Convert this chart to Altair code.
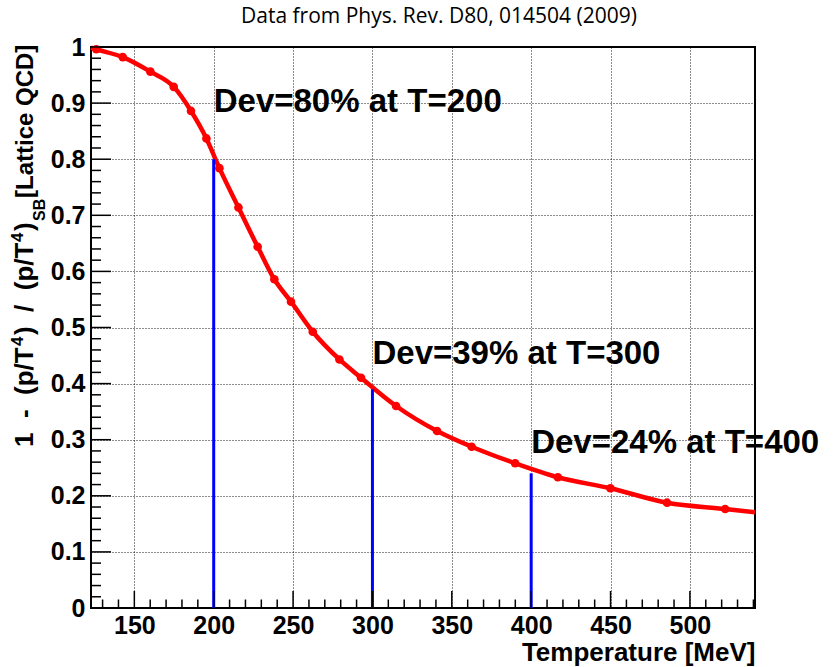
import altair as alt
import pandas as pd

# Lattice QCD pressure deviation from the Stefan-Boltzmann limit
temperature = [126.0, 142.7, 160.1, 174.8, 185.7, 195.4, 203.6, 215.6, 227.7, 238.2,
               248.7, 262.4, 279.2, 292.8, 314.9, 340.7, 362.5, 389.9, 416.8, 449.9,
               485.6, 522.2]
deviation = [0.996, 0.982, 0.956, 0.929, 0.886, 0.837, 0.784, 0.714, 0.644, 0.586,
             0.546, 0.4925, 0.443, 0.4105, 0.360, 0.3155, 0.2875, 0.258, 0.233, 0.2134,
             0.1877, 0.1765]
# curve continues to the frame edges
curve_start = (122.7, 0.999)
curve_end = (541.0, 0.1706)

# marked temperatures and their deviations
mark_T = [200, 300, 400]
mark_dev = [0.80, 0.39, 0.24]
label_y = [0.885, 0.435, 0.276]

x_ticks = [150, 200, 250, 300, 350, 400, 450, 500]
y_ticks = [0, 0.1, 0.2, 0.3, 0.4, 0.5, 0.6, 0.7, 0.8, 0.9, 1]

W, H = 664, 561
FONT = "Liberation Sans"
LABEL_SIZE = 25
NB = "\u00a0"  # non-collapsing space for the wider title spacing

x_scale = alt.Scale(domain=[curve_start[0], curve_end[0]], nice=False, zero=False)
y_scale = alt.Scale(domain=[0, 1], nice=False, zero=False)

curve_df = pd.DataFrame({
    "T": [curve_start[0]] + temperature + [curve_end[0]],
    "v": [curve_start[1]] + deviation + [curve_end[1]],
})
points_df = pd.DataFrame({"T": temperature, "v": deviation})
marks_df = pd.DataFrame({
    "T": mark_T,
    "dev": mark_dev,
    "ly": label_y,
    "label": [f"Dev={round(d * 100)}% at T={t}" for t, d in zip(mark_T, mark_dev)],
})

curve = alt.Chart(curve_df).mark_line(
    color="#ff0000", strokeWidth=4.5, interpolate="monotone"
).encode(
    x=alt.X("T:Q", scale=x_scale,
            axis=alt.Axis(values=x_ticks, title="Temperature [MeV]", titleAnchor="end",
                          titleAlign="right", titleFont=FONT, titleFontSize=26,
                          titleFontWeight="bold", titleColor="black", titlePadding=1,
                          labelPadding=5, labelFlush=False)),
    y=alt.Y("v:Q", scale=y_scale,
            axis=alt.Axis(values=y_ticks, format="~g", title=None, labelPadding=6)),
)

points = alt.Chart(points_df).mark_point(
    shape="circle", filled=True, color="#ff0000", size=75, opacity=1
).encode(x=alt.X("T:Q", scale=x_scale), y=alt.Y("v:Q", scale=y_scale))

drops = alt.Chart(marks_df).mark_rule(color="#0000ff", strokeWidth=3).encode(
    x=alt.X("T:Q", scale=x_scale),
    y=alt.Y("dev:Q", scale=y_scale),
    y2=alt.datum(0),
)

dev_text = alt.Chart(marks_df).mark_text(
    align="left", baseline="alphabetic", font=FONT, fontWeight="bold",
    fontSize=33, color="black", dx=0
).encode(x=alt.X("T:Q", scale=x_scale), y=alt.Y("ly:Q", scale=y_scale), text="label:N")

# inward tick marks on the bottom and left axes
xt = [130 + 10 * i for i in range(42)]
x_major = pd.DataFrame({"T": [t for t in xt if t % 50 == 0]})
x_minor = pd.DataFrame({"T": [t for t in xt if t % 50 != 0]})
yt = [i for i in range(51)]
y_major = pd.DataFrame({"v": [i / 50 for i in yt if i % 5 == 0]})
y_minor = pd.DataFrame({"v": [i / 50 for i in yt if i % 5 != 0]})

tick_style = dict(color="black", strokeWidth=1.5)
xmaj = alt.Chart(x_major).mark_rule(**tick_style).encode(
    x=alt.X("T:Q", scale=x_scale), y=alt.value(H), y2=alt.value(H - 17))
xmin = alt.Chart(x_minor).mark_rule(**tick_style).encode(
    x=alt.X("T:Q", scale=x_scale), y=alt.value(H), y2=alt.value(H - 8.5))
ymaj = alt.Chart(y_major).mark_rule(**tick_style).encode(
    y=alt.Y("v:Q", scale=y_scale), x=alt.value(0), x2=alt.value(20))
ymin = alt.Chart(y_minor).mark_rule(**tick_style).encode(
    y=alt.Y("v:Q", scale=y_scale), x=alt.value(0), x2=alt.value(10))


def rotated(text, size, x, y):
    """One piece of the vertical y-axis title, read bottom to top."""
    return alt.Chart(pd.DataFrame({"t": [text]})).mark_text(
        angle=270, align="left", baseline="alphabetic", font=FONT,
        fontWeight="bold", color="black", fontSize=size,
    ).encode(text="t:N", x=alt.value(x), y=alt.value(y))


# y-axis title: 1 - (p/T^4) / (p/T^4)_SB [Lattice QCD]
BASE_X = -58
TITLE_SIZE = 26
ytitle = [
    rotated(f"1{NB} -{NB} (p/T", TITLE_SIZE, BASE_X, 400),
    rotated("4", 17, BASE_X - 10, 299),
    rotated(f"){NB} /{NB} (p/T", TITLE_SIZE, BASE_X, 288),
    rotated("4", 17, BASE_X - 10, 195),
    rotated(")", TITLE_SIZE, BASE_X, 184),
    rotated("SB", 16, BASE_X + 12, 174),
    rotated("[Lattice QCD]", 24, BASE_X, 151),
]

top_title = alt.Chart(pd.DataFrame({"t": ["Data from Phys. Rev. D80, 014504 (2009)"]})).mark_text(
    align="center", baseline="middle", font="Open Sans", fontSize=21, color="black"
).encode(text="t:N", x=alt.value(348), y=alt.value(-30))

chart = alt.layer(
    curve, drops, points, dev_text, xmaj, xmin, ymaj, ymin, *ytitle, top_title,
).properties(
    width=W, height=H,
    autosize=alt.AutoSizeParams(type="none"),
    padding={"left": 91, "top": 47, "right": 78, "bottom": 59},
    background="white",
).configure_view(
    stroke="black", strokeWidth=2
).configure_axis(
    grid=True, gridColor="black", gridDash=[1, 2], gridWidth=1, gridOpacity=0.9,
    ticks=False, domain=False,
    labelFont=FONT, labelFontWeight="bold", labelFontSize=LABEL_SIZE, labelColor="black",
)

chart.save("out.html", embed_options={"renderer": "svg", "actions": False})
